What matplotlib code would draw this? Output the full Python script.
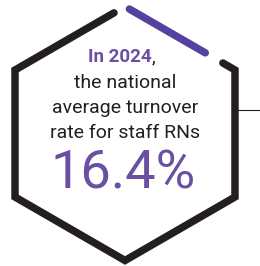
import numpy as np
import matplotlib.pyplot as plt

# Infographic content
year = 2024
rate = 16.4
lines = ['the national', 'average turnover', 'rate for staff RNs']

purple = '#5441a0'
purple_txt = '#6a4fa3'
dark = '#231f20'

fig = plt.figure(figsize=(2.6, 2.66), dpi=100)
ax = fig.add_axes([0, 0, 1, 1])
ax.set_xlim(0, 260)
ax.set_ylim(266, 0)
ax.axis('off')

# pointy-top hexagon
cx, cy, R = 125, 133.5, 127
ang = np.deg2rad(np.array([-90, -30, 30, 90, 150, 210]))
vx = cx + R * np.cos(ang)
vy = cy + R * np.sin(ang)

def along(i, t):
    j = (i + 1) % 6
    return vx[i] + (vx[j] - vx[i]) * t, vy[i] + (vy[j] - vy[i]) * t

# black outline: from near the right corner, around, up to near the top
sx, sy = along(0, 0.89)
ex, ey = along(5, 0.90)
px = [sx, vx[1], vx[2], vx[3], vx[4], vx[5], ex]
py = [sy, vy[1], vy[2], vy[3], vy[4], vy[5], ey]
ax.plot(px, py, color=dark, lw=5.4, solid_capstyle='round', solid_joinstyle='miter')

# purple accent on top-right edge
a = along(0, 0.04)
b = along(0, 0.73)
ax.plot([a[0], b[0]], [a[1], b[1]], color=purple, lw=5.4, solid_capstyle='round')

# connector line
ax.plot([vx[1] + 3, 260], [110, 110], color=dark, lw=0.8)

# text
t = ax.text(120, 57, f'In {year}', color=purple_txt, fontsize=13.5, fontweight='bold',
            family='Roboto', ha='center', va='center')
fig.canvas.draw()
bb = t.get_window_extent().transformed(ax.transData.inverted())
ax.text(bb.x1, 57, ',', color=dark, fontsize=13.5, family='Roboto', ha='left', va='center')

for k, s in enumerate(lines):
    ax.text(125, 83 + 25 * k, s, color=dark, fontsize=14, family='Roboto',
            ha='center', va='center')

ax.text(123, 174, f'{rate}%', color=purple_txt, fontsize=39, family='Roboto',
        fontweight='normal', ha='center', va='center')

fig.savefig('out.png', dpi=100)
